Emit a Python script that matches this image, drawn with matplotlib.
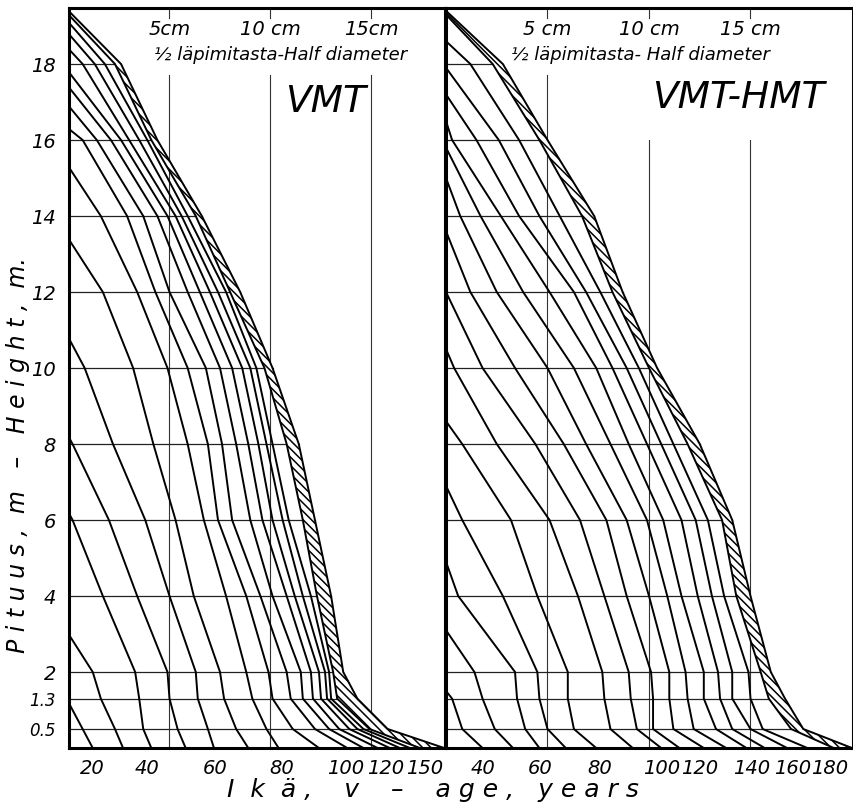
import numpy as np
import matplotlib
matplotlib.use('Agg')
import matplotlib.pyplot as plt

plt.rcParams['font.family'] = ['DejaVu Sans']
plt.rcParams['hatch.linewidth'] = 1.1

# ---------------- data ----------------
section_heights = [0, 0.5, 1.3, 2, 4, 6, 8, 10, 12, 14, 16, 18]
height_labels = ['0.5', '1.3', '2', '4', '6', '8', '10', '12', '14', '16', '18']

# VMT : tree height (m) reached at each age line, and half-diameter (cm) at section heights
vmt_tops = [1.2, 3.0, 6.2, 8.2, 10.8, 13.4, 15.3, 16.3, 16.9, 17.4, 17.8, 18.4, 18.8, 19.1, 19.3, 19.4]
vmt_radii = [
    [1.2, 0.7],
    [2.7, 2.3, 1.6, 1.2],
    [4.1, 3.7, 3.5, 3.3, 1.7, 0.2],
    [5.8, 5.4, 5.0, 4.9, 3.4, 2.0, 0.2],
    [7.2, 6.9, 6.4, 6.3, 5.0, 3.8, 2.2, 0.8],
    [8.9, 8.3, 7.7, 7.5, 6.2, 5.3, 4.2, 3.2, 1.7],
    [10.4, 9.8, 9.1, 8.8, 7.8, 6.7, 5.9, 4.9, 3.4, 1.6],
    [12.4, 11.1, 10.1, 9.9, 8.8, 7.4, 6.9, 5.9, 4.3, 2.9, 0.7],
    [13.8, 12.2, 11.0, 10.8, 9.5, 8.1, 7.6, 6.8, 5.0, 3.7, 1.4],
    [14.6, 12.9, 11.6, 11.5, 10.1, 9.0, 8.3, 7.5, 5.9, 4.4, 2.1],
    [15.3, 13.4, 12.1, 12.0, 10.8, 9.6, 8.9, 8.1, 6.5, 4.9, 2.6],
    [15.9, 13.9, 12.5, 12.4, 11.2, 10.1, 9.4, 8.6, 7.0, 5.3, 3.0, 0.7],
    [16.4, 14.3, 12.8, 12.7, 11.6, 10.6, 9.8, 9.0, 7.4, 5.6, 3.5, 1.3],
    [16.9, 14.6, 13.0, 12.9, 12.0, 10.9, 10.1, 9.3, 7.8, 5.9, 3.9, 1.8],
    [17.4, 14.9, 13.3, 13.1, 12.3, 11.6, 10.8, 9.7, 8.0, 6.3, 4.1, 2.3],
    [18.6, 15.8, 14.3, 13.6, 13.0, 12.2, 11.4, 10.1, 8.5, 6.6, 4.4, 2.6],
]
vmt_age_ticks = [1.2, 3.9, 7.25, 10.55, 13.7, 15.7, 17.65]
vmt_age_labels = ['20', '40', '60', '80', '100', '120', '150']

# VMT-HMT
hmt_tops = [1.5, 3.1, 4.9, 6.9, 8.6, 10.5, 12.0, 13.6, 15.0, 15.8, 16.5, 17.2, 17.9, 18.6, 19.3, 19.4]
hmt_radii = [
    [1.8, 0.8, 0.3],
    [3.3, 2.4, 1.8, 1.4],
    [4.6, 3.9, 3.5, 3.4, 0.6],
    [5.9, 5.0, 4.6, 4.5, 2.8, 0.8],
    [7.4, 6.3, 6.0, 6.0, 4.5, 3.2, 0.8],
    [9.2, 8.1, 7.8, 7.7, 6.5, 5.1, 2.5, 0.4],
    [10.6, 9.4, 9.1, 9.0, 7.8, 6.6, 4.4, 1.8],
    [11.5, 10.2, 10.2, 10.1, 8.9, 7.9, 5.8, 3.4, 1.2],
    [12.7, 11.2, 11.0, 11.0, 10.0, 8.9, 6.9, 5.0, 2.5, 0.7],
    [13.8, 12.2, 11.9, 11.8, 10.9, 9.9, 8.1, 6.3, 3.8, 1.7],
    [14.8, 13.3, 12.7, 12.7, 11.6, 10.7, 9.0, 7.4, 5.1, 2.7, 0.3],
    [15.7, 14.1, 13.5, 13.4, 12.4, 11.6, 9.9, 8.2, 6.3, 3.6, 1.5],
    [16.8, 15.0, 14.1, 14.1, 13.1, 12.3, 10.6, 8.9, 6.9, 4.6, 2.6],
    [17.8, 15.6, 15.0, 14.9, 13.7, 12.9, 11.2, 9.5, 7.6, 5.6, 3.6, 1.2],
    [19.1, 17.0, 15.9, 15.5, 14.3, 13.6, 11.9, 10.0, 8.2, 6.7, 4.6, 2.3],
    [20.0, 17.6, 16.7, 16.0, 15.0, 14.1, 12.5, 10.4, 8.7, 7.3, 5.0, 2.8],
]
hmt_age_ticks = [1.82, 4.63, 7.59, 10.64, 12.51, 15.07, 17.09, 18.92]
hmt_age_labels = ['40', '60', '80', '100', '120', '140', '160', '180']

grid_cm = [5, 10, 15]

# ---------------- figure ----------------
W, H = 854, 805
fig = plt.figure(figsize=(W / 100, H / 100), dpi=100)


def px_axes(x0, x1, y0, y1):
    return fig.add_axes([x0 / W, 1 - y1 / H, (x1 - x0) / W, (y1 - y0) / H])


TOPY = 8
BOTY = 748
PX_M = 38.0
YMAX = (BOTY - TOPY) / PX_M

axL = px_axes(68.5, 445.5, TOPY, BOTY)
axR = px_axes(446, 853, TOPY, BOTY)
axL.set_xlim(0, (445.5 - 68.5) / 20.2)
axR.set_xlim(0, (853 - 446) / 20.3)

FONT = dict(family='DejaVu Sans', style='italic')


def profile(radii, top):
    xs = list(radii) + [0.0]
    ys = list(section_heights[:len(radii)]) + [top]
    return np.array(xs), np.array(ys)


def draw_panel(ax, tops, radii, ticks, labels, name, name_xy, gap_top):
    ax.set_ylim(0, YMAX)
    # hatched outermost ring
    xo, yo = profile(radii[-1], tops[-1])
    xi, yi = profile(radii[-2], tops[-2])
    poly_x = np.concatenate([xo, xi[::-1]])
    poly_y = np.concatenate([yo, yi[::-1]])
    ax.fill(poly_x, poly_y, facecolor='white', edgecolor='black', hatch='\\\\\\\\', lw=0, zorder=2)
    # section lines to the outer profile
    for h, r in zip(section_heights[1:], radii[-1][1:]):
        ax.plot([0, r], [h, h], color='#222222', lw=0.9, zorder=1)
    # vertical half-diameter grid
    for g, gt in zip(grid_cm, gap_top):
        ax.plot([g, g], [YMAX, 19.2], color='#333333', lw=0.8, zorder=0)
        ax.plot([g, g], [0, gt], color='#333333', lw=0.8, zorder=0)
    # age lines
    for top, r in zip(tops, radii):
        x, y = profile(r, top)
        ax.plot(x, y, color='black', lw=1.4, zorder=3, solid_joinstyle='miter')
    for s in ax.spines.values():
        s.set_linewidth(2.2)
    ax.set_xticks(ticks)
    ax.set_xticklabels(labels, fontsize=14, **FONT)
    ax.tick_params(axis='x', length=0, pad=8)
    ax.text(name_xy[0], name_xy[1], name, fontsize=27, ha='center', va='center', **FONT)


draw_panel(axL, vmt_tops, vmt_radii, vmt_age_ticks, vmt_age_labels, 'VMT',
           (12.7, 17.0), [17.7, 17.7, 17.7])
draw_panel(axR, hmt_tops, hmt_radii, hmt_age_ticks, hmt_age_labels, 'VMT-HMT',
           (14.4, 17.1), [17.7, 16.0, 16.0])

axL.set_yticks(section_heights[1:])
axL.set_yticklabels(height_labels, fontsize=14, **FONT)
for lab in axL.get_yticklabels()[:2]:
    lab.set_fontsize(12)
axL.tick_params(axis='y', length=0, pad=9)
axR.set_yticks([])

# top scale labels
for ax, labs in ((axL, ['5cm', '10 cm', '15cm']), (axR, ['5 cm', '10 cm', '15 cm'])):
    for g, t in zip(grid_cm, labs):
        ax.text(g, 18.9, t, fontsize=14, ha='center', va='center', **FONT)
axL.text(10.5, 18.25, '½ läpimitasta-Half diameter', fontsize=13, ha='center', va='center', **FONT)
axR.text(9.6, 18.25, '½ läpimitasta- Half diameter', fontsize=13, ha='center', va='center', **FONT)

fig.text(18 / W, 1 - 455 / H, 'P i t u u s ,  m   –   H e i g h t ,  m.', rotation=90,
         fontsize=17, ha='center', va='center', **FONT)
fig.text(433 / W, 1 - 790 / H, 'I  k  ä ,    v    –    a g e ,   y e a r s',
         fontsize=18, ha='center', va='center', **FONT)

fig.savefig('out.png', dpi=100, facecolor='white')
